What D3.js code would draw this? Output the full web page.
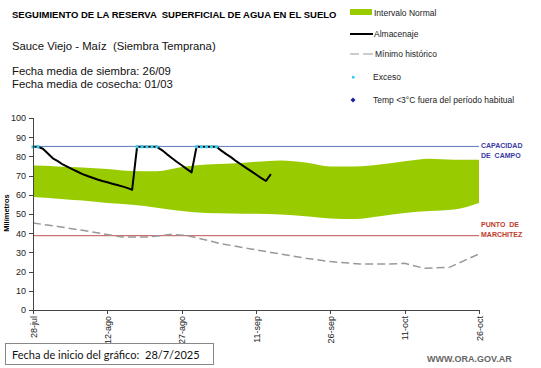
<!DOCTYPE html>
<html lang="es">
<head>
<meta charset="utf-8">
<title>Reserva de agua en el suelo</title>
<script src="https://cdnjs.cloudflare.com/ajax/libs/d3/7.8.5/d3.min.js"></script>
<style>
  body { margin: 0; padding: 0; background: #fff; }
  svg { font-family: Arial, "Liberation Sans", sans-serif; }
  .axis path, .axis line { stroke: #444; shape-rendering: crispEdges; }
  .axis text { font-size: 9px; fill: #222; }
</style>
</head>
<body>
<script>
// ---- datos (días desde 28/7/2025) ----
var startDate = new Date(2025, 6, 28);
var xTickDays = [0, 15, 30, 45, 60, 75, 90];
var xTickLabels = ["28-jul", "12-ago", "27-ago", "11-sep", "26-sep", "11-oct", "26-oct"];
var yTicks = [0, 10, 20, 30, 40, 50, 60, 70, 80, 90, 100];

var capacidadCampo = 85.2;
var puntoMarchitez = 38.7;

// intervalo normal
var bandDays  = [0, 5, 10, 15, 20, 25, 30, 35, 40, 45, 50, 55, 60, 65, 70, 75, 80, 85, 90];
var bandUpper = [75.2, 74.8, 74.2, 73.4, 72.4, 72.3, 74.5, 75.8, 76.3, 77.2, 77.9, 76.8, 74.8, 74.8, 75.8, 77.5, 78.8, 78.3, 78.3];
var bandLower = [58.9, 58.0, 57.0, 55.7, 54.8, 53.3, 51.5, 50.5, 50.3, 50.1, 49.8, 48.8, 47.7, 47.4, 48.8, 50.5, 51.5, 52.3, 55.7];

// almacenaje diario
var almacenaje = [85, 85, 84, 81.5, 79, 77.5, 75.8, 74.5, 73.2, 72, 70.8, 69.8, 68.9, 68, 67.2, 66.5, 65.8, 65.1, 64.4, 63.6, 62.6,
                  85, 85, 85, 85, 85, 83.3, 81.2, 79.2, 77.2, 75.4, 73.5, 71.7,
                  85, 85, 85, 85, 85, 83, 81.2, 79.5, 77.5, 75.8, 74, 72.3, 70.6, 68.8, 67.2, 70.8];

// exceso
var excesoDays = [0, 1, 21, 22, 23, 24, 25, 33, 34, 35, 36, 37];

// minimo historico
var minDays   = [0, 5, 10, 15, 18, 23, 28, 31, 34, 38, 44, 48, 55, 60, 66, 72, 75, 79, 84, 90];
var minValues = [45.3, 43.5, 41.5, 39.3, 38, 38, 39.4, 38.8, 37, 34.5, 31.8, 30, 27, 25.2, 24, 24, 24.3, 21.7, 22.2, 29.2];

// ---- dibujo ----
var width = 541, height = 368;
var svg = d3.select("body").append("svg")
    .attr("width", width)
    .attr("height", height);

var x = d3.scaleLinear().domain([0, 90]).range([33, 479]);
var y = d3.scaleLinear().domain([0, 100]).range([310, 118]);

// banda verde
var area = d3.area()
    .x(function(d) { return x(d.day); })
    .y0(function(d) { return y(d.lo); })
    .y1(function(d) { return y(d.hi); })
    .curve(d3.curveMonotoneX);

var bandData = bandDays.map(function(d, i) { return { day: d, hi: bandUpper[i], lo: bandLower[i] }; });
svg.append("path")
    .datum(bandData)
    .attr("d", area)
    .attr("fill", "#99cc00");

// lineas de referencia
svg.append("line")
    .attr("x1", x(0)).attr("x2", x(90))
    .attr("y1", y(capacidadCampo)).attr("y2", y(capacidadCampo))
    .attr("stroke", "#5b7cbf").attr("stroke-width", 1);

svg.append("line")
    .attr("x1", x(0)).attr("x2", x(90))
    .attr("y1", y(puntoMarchitez)).attr("y2", y(puntoMarchitez))
    .attr("stroke", "#c0504d").attr("stroke-width", 1);

// minimo historico
var minLine = d3.line()
    .x(function(d, i) { return x(minDays[i]); })
    .y(function(d) { return y(d); });
svg.append("path")
    .datum(minValues)
    .attr("d", minLine)
    .attr("fill", "none")
    .attr("stroke", "#999")
    .attr("stroke-width", 1.5)
    .attr("stroke-dasharray", "8,4");

// almacenaje
var storeLine = d3.line()
    .x(function(d, i) { return x(i); })
    .y(function(d) { return y(d); });
svg.append("path")
    .datum(almacenaje)
    .attr("d", storeLine)
    .attr("fill", "none")
    .attr("stroke", "#000")
    .attr("stroke-width", 2)
    .attr("stroke-linejoin", "round");

// exceso
svg.selectAll(".exceso")
    .data(excesoDays)
    .enter().append("rect")
    .attr("class", "exceso")
    .attr("x", function(d) { return x(d) - 1.5; })
    .attr("y", function(d) { return y(almacenaje[d]) - 1.5; })
    .attr("width", 3).attr("height", 3)
    .attr("fill", "#33ccee");

// ejes
var yAxis = d3.axisLeft(y).tickValues(yTicks).tickSize(4).tickPadding(3);
svg.append("g")
    .attr("class", "axis")
    .attr("transform", "translate(" + x(0) + ",0)")
    .call(yAxis);

var xAxis = d3.axisBottom(x).tickValues(xTickDays).tickSize(4)
    .tickFormat(function(d, i) { return xTickLabels[i]; });
var gx = svg.append("g")
    .attr("class", "axis")
    .attr("transform", "translate(0," + y(0) + ")")
    .call(xAxis);
gx.selectAll("text")
    .attr("transform", "rotate(-90)")
    .attr("x", -6)
    .attr("y", 0)
    .attr("dy", "0.35em")
    .style("text-anchor", "end");

svg.append("text")
    .attr("transform", "translate(9,213) rotate(-90)")
    .attr("text-anchor", "middle")
    .style("font-size", "7.5px")
    .style("font-weight", "bold")
    .text("Milímetros");

// etiquetas de lineas de referencia
svg.append("text").attr("x", 481).attr("y", 148)
    .style("font-size", "7px").style("font-weight", "bold").attr("fill", "#3a3aa6")
    .text("CAPACIDAD");
svg.append("text").attr("x", 481).attr("y", 157.5)
    .style("font-size", "7px").style("font-weight", "bold").attr("fill", "#3a3aa6")
    .attr("xml:space", "preserve")
    .text("DE  CAMPO");
svg.append("text").attr("x", 481).attr("y", 227)
    .style("font-size", "7px").style("font-weight", "bold").attr("fill", "#c0392b")
    .attr("xml:space", "preserve")
    .text("PUNTO  DE");
svg.append("text").attr("x", 481).attr("y", 236.5)
    .style("font-size", "7px").style("font-weight", "bold").attr("fill", "#c0392b")
    .text("MARCHITEZ");

// titulos
svg.append("text").attr("x", 12).attr("y", 18)
    .style("font-size", "9.5px").style("font-weight", "bold")
    .attr("xml:space", "preserve")
    .text("SEGUIMIENTO DE LA RESERVA  SUPERFICIAL DE AGUA EN EL SUELO");
svg.append("text").attr("x", 12).attr("y", 50)
    .style("font-size", "11.3px").attr("fill", "#111")
    .attr("xml:space", "preserve")
    .text("Sauce Viejo - Maíz  (Siembra Temprana)");
svg.append("text").attr("x", 12).attr("y", 74.6)
    .style("font-size", "11.3px").attr("fill", "#111")
    .text("Fecha media de siembra: 26/09");
svg.append("text").attr("x", 12).attr("y", 87.6)
    .style("font-size", "11.3px").attr("fill", "#111")
    .text("Fecha media de cosecha: 01/03");

// leyenda
var lg = svg.append("g").style("font-size", "8.5px").attr("fill", "#222");
lg.append("rect").attr("x", 350).attr("y", 9).attr("width", 22).attr("height", 6).attr("fill", "#99cc00");
lg.append("text").attr("x", 374).attr("y", 16).text("Intervalo Normal");
lg.append("line").attr("x1", 350).attr("x2", 373).attr("y1", 34).attr("y2", 34)
    .attr("stroke", "#000").attr("stroke-width", 2);
lg.append("text").attr("x", 374).attr("y", 37).text("Almacenaje");
lg.append("line").attr("x1", 350).attr("x2", 373).attr("y1", 54).attr("y2", 54)
    .attr("stroke", "#999").attr("stroke-width", 1.2).attr("stroke-dasharray", "9,4,5,0");
lg.append("text").attr("x", 375).attr("y", 57).text("Mínimo histórico");
lg.append("rect").attr("x", 352).attr("y", 76).attr("width", 2.5).attr("height", 2.5).attr("fill", "#33ccee");
lg.append("text").attr("x", 373).attr("y", 80).text("Exceso");
lg.append("path").attr("d", "M0,-2.5L2.5,0L0,2.5L-2.5,0Z")
    .attr("transform", "translate(353,100)").attr("fill", "#1f1fa0");
lg.append("text").attr("x", 373).attr("y", 103).text("Temp <3°C fuera del período habitual");

// recuadro de fecha de inicio
svg.append("rect").attr("x", 5.5).attr("y", 343.5).attr("width", 208).attr("height", 21)
    .attr("fill", "#fff").attr("stroke", "#888");
svg.append("text").attr("x", 12).attr("y", 359)
    .style("font-family", "Lato, 'Open Sans', sans-serif")
    .style("font-size", "11px").attr("fill", "#111")
    .text("Fecha de inicio del gráfico:");
svg.append("text").attr("x", 145).attr("y", 359)
    .style("font-family", "Lato, 'Open Sans', sans-serif")
    .style("font-size", "11px").attr("fill", "#111")
    .text(d3.timeFormat("%-d/%-m/%Y")(startDate));

svg.append("text").attr("x", 427).attr("y", 362)
    .style("font-size", "9px").style("font-weight", "bold").attr("fill", "#666")
    .text("WWW.ORA.GOV.AR");
</script>
</body>
</html>
